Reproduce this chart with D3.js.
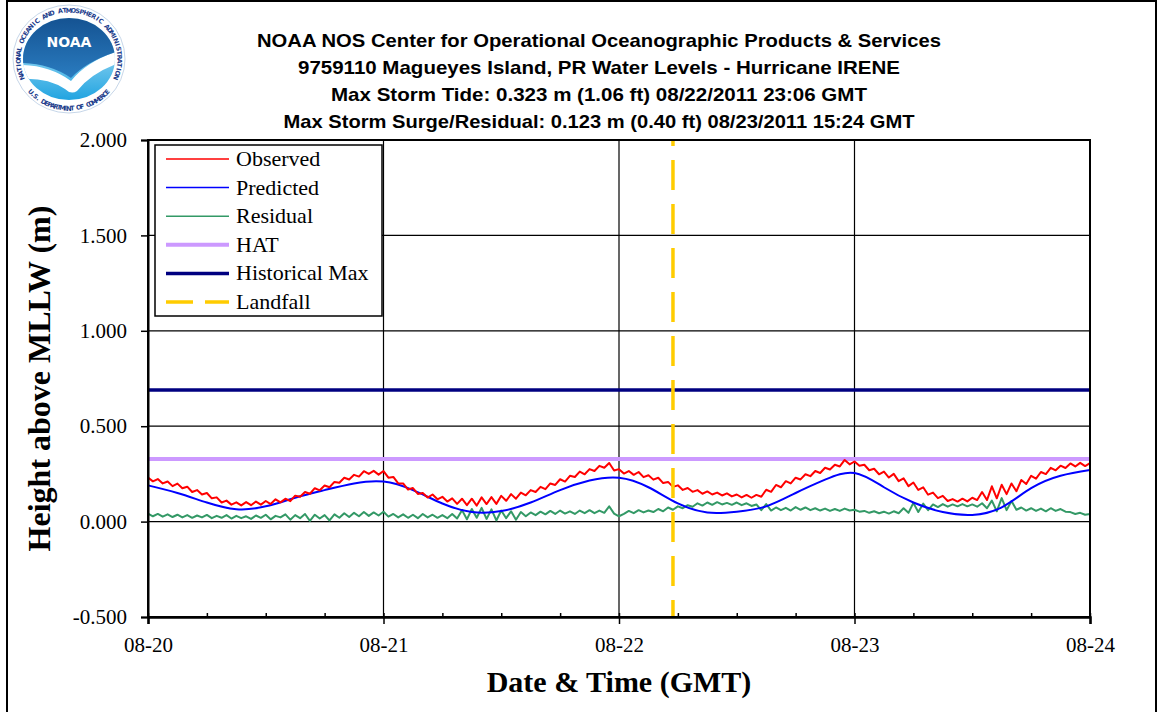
<!DOCTYPE html>
<html>
<head>
<meta charset="utf-8">
<script src="https://cdn.jsdelivr.net/npm/d3@7/dist/d3.min.js"></script>
<style>
  body { margin: 0; background: #fff; }
  svg { display: block; }
  .tick text { font-family: "Liberation Serif", "Times New Roman", serif; font-size: 21px; fill: #000; }
</style>
</head>
<body>
<svg id="chart" width="1158" height="712"></svg>
<script>
/* global d3 */
const titleLines = [
  'NOAA NOS Center for Operational Oceanographic Products & Services',
  '9759110 Magueyes Island, PR Water Levels - Hurricane IRENE',
  'Max Storm Tide: 0.323 m (1.06 ft) 08/22/2011 23:06 GMT',
  'Max Storm Surge/Residual: 0.123 m (0.40 ft) 08/23/2011 15:24 GMT'
]
const yLabel = 'Height above MLLW (m)'
const xLabel = 'Date & Time (GMT)'
const dayTicks = ['2011-08-20', '2011-08-21', '2011-08-22', '2011-08-23', '2011-08-24']
const yTicks = [-0.5, 0, 0.5, 1.0, 1.5, 2.0]
const seriesStart = '2011-08-20T00:00Z'

// observed water level, every 30 minutes from 08-20 00:00 GMT
const observed = [
  0.231, 0.211, 0.223, 0.200, 0.210, 0.186, 0.199, 0.175, 0.183, 0.155, 0.165, 0.142,
  0.150, 0.122, 0.127, 0.100, 0.110, 0.089, 0.101, 0.085, 0.102, 0.086, 0.105, 0.089,
  0.108, 0.092, 0.117, 0.101, 0.120, 0.107, 0.136, 0.130, 0.155, 0.146, 0.175, 0.164,
  0.189, 0.180, 0.208, 0.204, 0.230, 0.221, 0.245, 0.236, 0.264, 0.250, 0.266, 0.246,
  0.265, 0.230, 0.234, 0.200, 0.200, 0.168, 0.176, 0.145, 0.150, 0.126, 0.142, 0.117,
  0.130, 0.105, 0.122, 0.093, 0.120, 0.086, 0.120, 0.084, 0.127, 0.092, 0.128, 0.093,
  0.135, 0.109, 0.144, 0.120, 0.152, 0.138, 0.165, 0.155, 0.182, 0.170, 0.200, 0.192,
  0.222, 0.210, 0.240, 0.234, 0.262, 0.248, 0.275, 0.265, 0.292, 0.282, 0.307, 0.268,
  0.275, 0.252, 0.265, 0.245, 0.260, 0.233, 0.243, 0.220, 0.230, 0.202, 0.208, 0.182,
  0.190, 0.166, 0.176, 0.156, 0.165, 0.146, 0.158, 0.142, 0.152, 0.137, 0.148, 0.132,
  0.142, 0.127, 0.140, 0.125, 0.140, 0.130, 0.167, 0.156, 0.192, 0.180, 0.212, 0.200,
  0.230, 0.221, 0.248, 0.238, 0.265, 0.255, 0.282, 0.273, 0.298, 0.289, 0.323, 0.300,
  0.315, 0.293, 0.298, 0.269, 0.277, 0.248, 0.262, 0.231, 0.250, 0.212, 0.227, 0.186,
  0.205, 0.166, 0.180, 0.141, 0.152, 0.123, 0.135, 0.108, 0.118, 0.105, 0.120, 0.106,
  0.125, 0.113, 0.155, 0.113, 0.185, 0.122, 0.193, 0.144, 0.200, 0.159, 0.218, 0.197,
  0.240, 0.225, 0.260, 0.249, 0.282, 0.269, 0.293, 0.281, 0.305, 0.289, 0.308, 0.291,
  0.306
]

// residual (observed - predicted), every 30 minutes
const residual = [
  0.042, 0.028, 0.040, 0.026, 0.038, 0.024, 0.036, 0.022, 0.034, 0.020, 0.032, 0.022,
  0.035, 0.018, 0.030, 0.020, 0.034, 0.016, 0.030, 0.018, 0.028, 0.014, 0.032, 0.020,
  0.036, 0.012, 0.030, 0.022, 0.038, 0.010, 0.034, 0.018, 0.040, 0.004, 0.036, 0.016,
  0.034, 0.006, 0.038, 0.020, 0.044, 0.024, 0.046, 0.028, 0.050, 0.030, 0.048, 0.032,
  0.052, 0.026, 0.040, 0.022, 0.038, 0.020, 0.036, 0.018, 0.040, 0.022, 0.036, 0.020,
  0.034, 0.018, 0.040, 0.016, 0.060, 0.012, 0.066, 0.020, 0.072, 0.014, 0.064, 0.006,
  0.058, 0.018, 0.054, 0.010, 0.050, 0.028, 0.048, 0.034, 0.052, 0.038, 0.056, 0.040,
  0.058, 0.042, 0.054, 0.040, 0.058, 0.044, 0.060, 0.044, 0.058, 0.046, 0.080, 0.042,
  0.028, 0.040, 0.056, 0.044, 0.060, 0.048, 0.058, 0.050, 0.066, 0.054, 0.074, 0.062,
  0.080, 0.070, 0.086, 0.078, 0.096, 0.084, 0.100, 0.088, 0.102, 0.090, 0.098, 0.088,
  0.100, 0.086, 0.096, 0.082, 0.090, 0.060, 0.092, 0.058, 0.074, 0.060, 0.072, 0.058,
  0.076, 0.062, 0.074, 0.060, 0.070, 0.058, 0.068, 0.056, 0.066, 0.056, 0.068, 0.058,
  0.062, 0.052, 0.056, 0.046, 0.054, 0.044, 0.052, 0.042, 0.054, 0.044, 0.070, 0.046,
  0.098, 0.050, 0.094, 0.060, 0.090, 0.076, 0.092, 0.078, 0.090, 0.080, 0.092, 0.080,
  0.090, 0.078, 0.096, 0.070, 0.110, 0.054, 0.123, 0.060, 0.108, 0.062, 0.074, 0.058,
  0.070, 0.056, 0.068, 0.054, 0.070, 0.056, 0.066, 0.052, 0.050, 0.040, 0.046, 0.036,
  0.040
]

// predicted tide, every 3 hours
const predicted = [
  0.190, 0.150, 0.100, 0.065, 0.080, 0.125, 0.165, 0.200, 0.210, 0.165, 0.095,
  0.050, 0.055, 0.100, 0.165, 0.215, 0.230, 0.180, 0.095, 0.048, 0.052, 0.080,
  0.150, 0.220, 0.255, 0.180, 0.100, 0.050, 0.035, 0.075, 0.175, 0.240, 0.270
]

const hatLevel = 0.328
const historicalMax = 0.690
const landfallTime = '2011-08-22T05:30Z'

const legendNames = ['Observed', 'Predicted', 'Residual', 'HAT', 'Historical Max', 'Landfall']

const ringTop = 'NATIONAL OCEANIC AND ATMOSPHERIC ADMINISTRATION'
const ringBottom = 'U.S. DEPARTMENT OF COMMERCE'

const STYLE = {
  Observed: { stroke: '#ff0000', width: 2 },
  Predicted: { stroke: '#0000ff', width: 2 },
  Residual: { stroke: '#339966', width: 2 },
  HAT: { stroke: '#cc99ff', width: 4 },
  'Historical Max': { stroke: '#000080', width: 3.5 },
  Landfall: { stroke: '#ffcc00', width: 3.5, dash: '30,14' }
}

const SERIF = '"Liberation Serif", "Times New Roman", serif'
const SANS = '"Liberation Sans", Arial, sans-serif'

const MARGIN = { top: 140, right: 68, bottom: 95, left: 148 }
const width = 1158, height = 712
const $svg = d3.select('#chart')

const t0 = new Date(seriesStart).getTime()
const HALF_HOUR = 30 * 60 * 1000
const THREE_HOURS = 6 * HALF_HOUR

const xScale = d3.scaleUtc()
  .domain([new Date(dayTicks[0] + 'T00:00Z'), new Date(dayTicks[dayTicks.length - 1] + 'T00:00Z')])
  .range([MARGIN.left, width - MARGIN.right])
const yScale = d3.scaleLinear()
  .domain([-0.5, 2.0])
  .range([height - MARGIN.bottom, MARGIN.top])

const fmt = d3.formatLocale({ decimal: '.', thousands: ',', grouping: [3], currency: ['$', ''], minus: '-' }).format('.3f')

function drawFrame() {
  // border round the whole picture
  $svg.append('path')
    .attr('d', `M7,${height + 5} V1 H1156 V${height + 5}`)
    .attr('fill', 'none')
    .attr('stroke', '#000')
    .attr('stroke-width', 2)
}

function drawLogo() {
  const cx = 69, cy = 59
  const g = $svg.append('g').attr('class', 'logo')
  const defs = $svg.append('defs')
  const grad = defs.append('linearGradient').attr('id', 'sea').attr('x1', 0).attr('y1', 0).attr('x2', 0).attr('y2', 1)
  grad.append('stop').attr('offset', '0%').attr('stop-color', '#d2f0fc')
  grad.append('stop').attr('offset', '100%').attr('stop-color', '#1fa3e0')
  const grad2 = defs.append('linearGradient').attr('id', 'sky').attr('x1', 0).attr('y1', 0).attr('x2', 0).attr('y2', 1)
  grad2.append('stop').attr('offset', '0%').attr('stop-color', '#13508f')
  grad2.append('stop').attr('offset', '100%').attr('stop-color', '#2a7cc0')
  defs.append('clipPath').attr('id', 'disc')
    .append('ellipse').attr('cx', cx).attr('cy', cy).attr('rx', 46).attr('ry', 41)

  g.append('ellipse').attr('cx', cx).attr('cy', cy).attr('rx', 56).attr('ry', 54)
    .attr('fill', '#fff').attr('stroke', '#b8cbe2').attr('stroke-width', 0.8)
  const disc = g.append('g').attr('clip-path', 'url(#disc)')
  disc.append('rect').attr('x', cx - 47).attr('y', cy - 42).attr('width', 94).attr('height', 84).attr('fill', 'url(#sea)')
  disc.append('path')
    .attr('d', `M${cx - 50},${cy + 6} Q${cx - 20},${cy + 6} ${cx + 2},${cy + 22} Q${cx + 18},${cy + 2} ${cx + 50},${cy - 8} L${cx + 50},${cy + 4} Q${cx + 22},${cy + 14} ${cx + 8},${cy + 32} Q${cx + 2},${cy + 36} ${cx - 4},${cy + 30} Q${cx - 22},${cy + 18} ${cx - 50},${cy + 20} Z`)
    .attr('fill', '#fff')
  disc.append('path')
    .attr('d', `M${cx - 50},${cy - 45} H${cx + 50} V${cy - 8} Q${cx + 18},${cy + 2} ${cx + 2},${cy + 19} Q${cx - 20},${cy + 4} ${cx - 50},${cy + 4} Z`)
    .attr('fill', 'url(#sky)')
  g.append('text').attr('x', cx).attr('y', cy - 12).attr('text-anchor', 'middle')
    .attr('font-family', '"DejaVu Sans", sans-serif').attr('font-weight', 'bold').attr('font-size', 14)
    .attr('fill', '#fff').text('NOAA')

  // ring lettering, one glyph at a time round the disc
  const ring = (str, a0, a1, rx, ry, flip) => {
    const chars = str.split('')
    const step = (a1 - a0) / (chars.length - 1)
    g.append('g').selectAll('text')
      .data(chars)
      .enter()
      .append('text')
        .attr('transform', (c, i) => {
          const a = (a0 + i * step) * Math.PI / 180
          const px = cx + rx * Math.cos(a), py = cy + ry * Math.sin(a)
          const rot = (a0 + i * step) + (flip ? -90 : 90)
          return `translate(${px.toFixed(2)},${py.toFixed(2)}) rotate(${rot.toFixed(2)})`
        })
        .attr('text-anchor', 'middle')
        .attr('font-family', '"DejaVu Sans", sans-serif')
        .attr('font-weight', 'bold')
        .attr('font-size', 6.4)
        .attr('fill', '#1d3d8c')
        .text(c => c)
  }
  ring(ringTop, 158, 382, 48.5, 46.5, false)
  ring(ringBottom, 138, 42, 53.5, 51.5, true)
}

function drawTitles() {
  const widths = [684, 602, 536, 631]
  $svg.append('g').selectAll('text')
    .data(titleLines)
    .enter()
    .append('text')
      .attr('x', 599)
      .attr('y', (d, i) => 47 + i * 27)
      .attr('text-anchor', 'middle')
      .attr('font-family', SANS)
      .attr('font-weight', 'bold')
      .attr('font-size', 19)
      .attr('textLength', (d, i) => widths[i])
      .attr('lengthAdjust', 'spacingAndGlyphs')
      .text(d => d)
}

function drawChart() {
  const x0 = MARGIN.left, x1 = width - MARGIN.right
  const y0 = height - MARGIN.bottom, y1 = MARGIN.top
  const $gGrid = $svg.append('g').attr('class', 'grid')

  $gGrid.selectAll('.hgrid')
    .data(yTicks.slice(1, -1))
    .enter()
    .append('line')
      .attr('x1', x0).attr('x2', x1)
      .attr('y1', d => yScale(d)).attr('y2', d => yScale(d))
      .attr('stroke', '#000').attr('stroke-width', 1.2)
  $gGrid.selectAll('.vgrid')
    .data(dayTicks.slice(1, -1))
    .enter()
    .append('line')
      .attr('x1', d => xScale(new Date(d + 'T00:00Z'))).attr('x2', d => xScale(new Date(d + 'T00:00Z')))
      .attr('y1', y0).attr('y2', y1)
      .attr('stroke', '#000').attr('stroke-width', 1.2)

  // constant levels
  $svg.append('line')
    .attr('x1', x0).attr('x2', x1)
    .attr('y1', yScale(hatLevel)).attr('y2', yScale(hatLevel))
    .attr('stroke', STYLE.HAT.stroke).attr('stroke-width', STYLE.HAT.width)
  $svg.append('line')
    .attr('x1', x0).attr('x2', x1)
    .attr('y1', yScale(historicalMax)).attr('y2', yScale(historicalMax))
    .attr('stroke', STYLE['Historical Max'].stroke).attr('stroke-width', STYLE['Historical Max'].width)

  const line = d3.line()
    .x(d => xScale(d.t))
    .y(d => yScale(d.v))
  const toPoints = (arr, step) => arr.map((v, i) => ({ t: new Date(t0 + i * step), v }))

  $svg.append('path')
    .datum(toPoints(residual, HALF_HOUR))
    .attr('d', line)
    .attr('fill', 'none').attr('stroke', STYLE.Residual.stroke).attr('stroke-width', STYLE.Residual.width)
    .attr('stroke-linejoin', 'round')
  $svg.append('path')
    .datum(toPoints(predicted, THREE_HOURS))
    .attr('d', line.curve(d3.curveNatural))
    .attr('fill', 'none').attr('stroke', STYLE.Predicted.stroke).attr('stroke-width', STYLE.Predicted.width)
  line.curve(d3.curveLinear)
  $svg.append('path')
    .datum(toPoints(observed, HALF_HOUR))
    .attr('d', line)
    .attr('fill', 'none').attr('stroke', STYLE.Observed.stroke).attr('stroke-width', STYLE.Observed.width)
    .attr('stroke-linejoin', 'round')

  // landfall
  const xl = xScale(new Date(landfallTime))
  $svg.append('line')
    .attr('x1', xl).attr('x2', xl)
    .attr('y1', y1).attr('y2', y0)
    .attr('stroke', STYLE.Landfall.stroke).attr('stroke-width', STYLE.Landfall.width)
    .attr('stroke-dasharray', STYLE.Landfall.dash)
    .attr('stroke-dashoffset', 24)

  // plot frame
  $svg.append('rect')
    .attr('x', x0).attr('y', y1)
    .attr('width', x1 - x0).attr('height', y0 - y1)
    .attr('fill', 'none').attr('stroke', '#000').attr('stroke-width', 2)

  // axes
  const yAxis = d3.axisLeft(yScale)
    .tickValues(yTicks)
    .tickFormat(fmt)
    .tickSize(7)
    .tickPadding(14)
  $svg.append('g')
    .attr('transform', `translate(${x0},0)`)
    .call(yAxis)
    .call(g => g.select('.domain').attr('stroke-width', 2))
    .call(g => g.selectAll('.tick line').attr('stroke-width', 1.5))

  const xAxis = d3.axisBottom(xScale)
    .tickValues(dayTicks.map(d => new Date(d + 'T00:00Z')))
    .tickFormat(d3.utcFormat('%m-%d'))
    .tickSize(7)
    .tickPadding(13)
  $svg.append('g')
    .attr('transform', `translate(0,${y0})`)
    .call(xAxis)
    .call(g => g.select('.domain').attr('stroke-width', 2.5))
    .call(g => g.selectAll('.tick line').attr('stroke-width', 1.5))

  const minor = d3.axisTop(xScale)
    .ticks(d3.utcHour.every(6))
    .tickFormat('')
    .tickSize(4)
  $svg.append('g')
    .attr('transform', `translate(0,${y0})`)
    .call(minor)
    .call(g => g.select('.domain').remove())
    .call(g => g.selectAll('.tick line').attr('stroke-width', 1.5))

  // axis titles
  $svg.append('text')
    .attr('x', (x0 + x1) / 2)
    .attr('y', 692)
    .attr('text-anchor', 'middle')
    .attr('font-family', SERIF).attr('font-weight', 'bold').attr('font-size', 30)
    .text(xLabel)
  $svg.append('text')
    .attr('transform', `translate(50,${(y0 + y1) / 2}) rotate(-90)`)
    .attr('text-anchor', 'middle')
    .attr('font-family', SERIF).attr('font-weight', 'bold').attr('font-size', 32)
    .text(yLabel)
}

function drawLegend() {
  const $gLegend = $svg.append('g').attr('class', 'legend')
  $gLegend.append('rect')
    .attr('x', 155).attr('y', 145)
    .attr('width', 227).attr('height', 171)
    .attr('fill', '#fff').attr('stroke', '#000').attr('stroke-width', 1.5)
  const rowY = i => 159 + i * 28.6
  const $rows = $gLegend.selectAll('.legend-row')
    .data(legendNames)
    .enter()
    .append('g')
    .attr('class', 'legend-row')
  $rows.append('line')
    .attr('x1', 166).attr('x2', 229)
    .attr('y1', (d, i) => rowY(i)).attr('y2', (d, i) => rowY(i))
    .attr('stroke', d => STYLE[d].stroke)
    .attr('stroke-width', d => d === 'Observed' || d === 'Predicted' || d === 'Residual' ? 1.5 : STYLE[d].width)
    .attr('stroke-dasharray', d => d === 'Landfall' ? '27,12' : null)
  $rows.append('text')
    .attr('x', 236)
    .attr('y', (d, i) => rowY(i) + 7)
    .attr('font-family', SERIF)
    .attr('font-size', 22)
    .text(d => d)
}

function init() {
  drawFrame()
  drawLogo()
  drawTitles()
  drawChart()
  drawLegend()
}

init()
</script>
</body>
</html>
